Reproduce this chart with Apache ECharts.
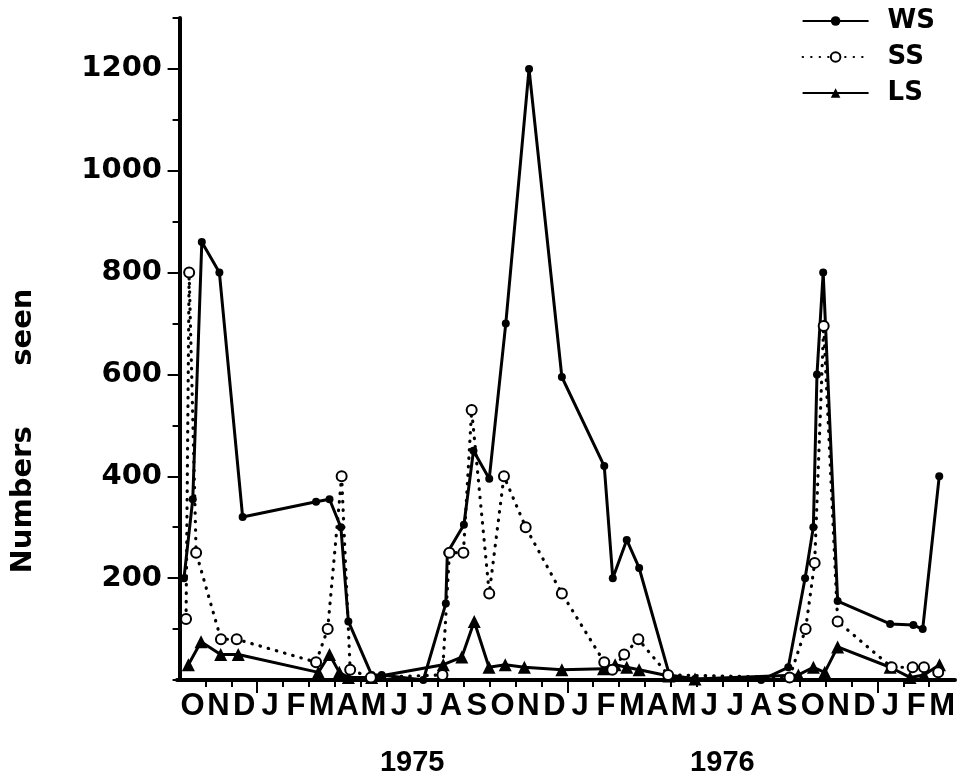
<!DOCTYPE html>
<html>
<head>
<meta charset="utf-8">
<script src="https://cdn.jsdelivr.net/npm/echarts@6/dist/echarts.min.js"></script>
<style>
  html, body { margin: 0; padding: 0; background: #fff; }
  #main { width: 959px; height: 777px; }
</style>
</head>
<body>
<div id="main"></div>
<script>
// x = months counted from 1 Oct 1974
var monthLabels = ['O','N','D','J','F','M','A','M','J','J','A','S','O','N','D','J','F','M','A','M','J','J','A','S','O','N','D','J','F','M'];
var yearLabels = {9: '1975', 21: '1976'};
var yLabels = [200, 400, 600, 800, 1000, 1200];

// WS
var wsMonth = [0.17, 0.51, 0.86, 1.54, 2.44, 5.28, 5.8, 6.24, 6.53, 7.43, 7.82, 9.43, 10.3, 10.36, 11.0, 11.37, 11.98, 12.62, 13.52, 14.79, 16.43, 16.76, 17.3, 17.78, 18.95, 19.94, 22.5, 23.55, 24.2, 24.52, 24.66, 24.9, 25.46, 27.49, 28.39, 28.75, 29.39];
var wsVal   = [200, 355, 860, 800, 320, 350, 355, 300, 115, 10, 10, 0, 150, 250, 305, 450, 395, 700, 1200, 595, 420, 200, 275, 220, 10, 2, 0, 25, 200, 300, 600, 800, 155, 110, 108, 100, 400];
// SS
var ssMonth = [0.25, 0.37, 0.64, 1.6, 2.21, 5.28, 5.73, 6.27, 6.6, 7.4, 10.17, 10.44, 10.98, 11.3, 11.98, 12.55, 13.39, 14.79, 16.43, 16.74, 17.2, 17.75, 18.9, 23.6, 24.22, 24.57, 24.92, 25.46, 27.55, 28.36, 28.8, 29.35];
var ssVal   = [120, 800, 250, 80, 80, 35, 100, 400, 20, 5, 10, 250, 250, 530, 170, 400, 300, 170, 35, 20, 50, 80, 10, 5, 100, 230, 695, 115, 25, 25, 25, 15];
// LS
var lsMonth = [0.34, 0.83, 1.59, 2.27, 5.37, 5.8, 6.18, 6.53, 7.43, 10.2, 10.92, 11.4, 11.97, 12.6, 13.34, 14.79, 16.4, 16.85, 17.3, 17.78, 18.93, 19.94, 23.94, 24.52, 24.96, 25.46, 27.49, 28.26, 28.8, 29.4];
var lsVal   = [30, 75, 50, 50, 15, 50, 15, 5, 5, 30, 45, 115, 25, 30, 25, 20, 22, 30, 25, 20, 8, 2, 10, 25, 15, 65, 25, 5, 10, 30];

function pairs(xs, ys){
    var out = [];
    for(var i = 0; i < xs.length; i++){
        out.push([xs[i], ys[i]]);
    }
    return out;
}

var monthTicks = [], monthCenters = [];
for(var i = 0; i < monthLabels.length; i++){
    monthCenters.push(i + 0.5);
    if(i > 0) monthTicks.push(i);
}

var boldFont = 'DejaVu Sans';
var narrowFont = 'Liberation Sans';

var myChart = echarts.init(document.getElementById('main'));
var option = {
    animation: false,
    backgroundColor: '#fff',
    grid: { left: 177, right: 4, top: 18, bottom: 96 },
    legend: {
        orient: 'vertical',
        right: 19,
        top: 3,
        itemWidth: 66,
        itemHeight: 12,
        itemGap: 10,
        textStyle: { fontFamily: boldFont, fontWeight: 'bold', fontSize: 26, color: '#000', lineHeight: 25, padding: [0, 0, 0, 14] },
        data: ['WS', 'SS', 'LS']
    },
    xAxis: [{
        type: 'value',
        position: 'bottom',
        min: -0.1,
        max: 30,
        splitLine: { show: false },
        axisLine: { onZero: false, lineStyle: { color: '#000', width: 4 } },
        axisTick: { customValues: monthTicks, length: 7, lineStyle: { color: '#000', width: 2 } },
        axisLabel: {
            customValues: monthCenters,
            margin: 11,
            fontFamily: narrowFont, fontWeight: 'bold', fontSize: 31, color: '#000',
            formatter: function(v){ return monthLabels[Math.floor(v)]; }
        }
    }, {
        type: 'value',
        position: 'bottom',
        min: -0.1,
        max: 30,
        splitLine: { show: false },
        axisLine: { show: false },
        axisTick: { customValues: [3, 15, 27], length: 13, lineStyle: { color: '#000', width: 2 } },
        axisLabel: {
            customValues: [9, 21],
            margin: 68,
            fontFamily: narrowFont, fontWeight: 'bold', fontSize: 29, color: '#000',
            formatter: function(v){ return yearLabels[v]; }
        }
    }],
    yAxis: [{
        type: 'value',
        position: 'left',
        min: 0,
        max: 1300,
        interval: 100,
        splitLine: { show: false },
        axisLine: { show: true, lineStyle: { color: '#000', width: 4 } },
        axisTick: { show: true, length: 7, lineStyle: { color: '#000', width: 2 } },
        axisLabel: {
            customValues: yLabels,
            margin: 15,
            fontFamily: boldFont, fontWeight: 'bold', fontSize: 29, color: '#000',
            formatter: function(v){ return String(v); }
        }
    }, {
        type: 'value',
        position: 'left',
        min: 0,
        max: 1300,
        splitLine: { show: false },
        axisLine: { show: false },
        axisTick: { show: true, customValues: yLabels, length: 12, lineStyle: { color: '#000', width: 2 } },
        axisLabel: { show: false }
    }],
    graphic: [{
        type: 'text',
        x: 23,
        y: 431,
        rotation: Math.PI / 2,
        style: {
            text: 'Numbers      seen',
            fontFamily: boldFont,
            fontWeight: 'bold',
            fontSize: 29,
            fill: '#000',
            align: 'center',
            verticalAlign: 'middle'
        }
    }],
    series: [{
        name: 'WS',
        type: 'line',
        data: pairs(wsMonth, wsVal),
        symbol: 'circle',
        symbolSize: 8,
        color: '#000',
        lineStyle: { color: '#000', width: 3 },
        itemStyle: { color: '#000' },
        z: 3
    }, {
        name: 'SS',
        type: 'line',
        data: pairs(ssMonth, ssVal),
        symbol: 'emptyCircle',
        symbolSize: 10,
        color: '#000',
        lineStyle: { color: '#000', width: 3.2, type: [0.5, 8], cap: 'round' },
        itemStyle: { color: '#000', borderWidth: 2.8 },
        z: 4
    }, {
        name: 'LS',
        type: 'line',
        data: pairs(lsMonth, lsVal),
        symbol: 'triangle',
        symbolSize: 13,
        color: '#000',
        lineStyle: { color: '#000', width: 3 },
        itemStyle: { color: '#000' },
        z: 3
    }]
};
myChart.setOption(option);
</script>
</body>
</html>
